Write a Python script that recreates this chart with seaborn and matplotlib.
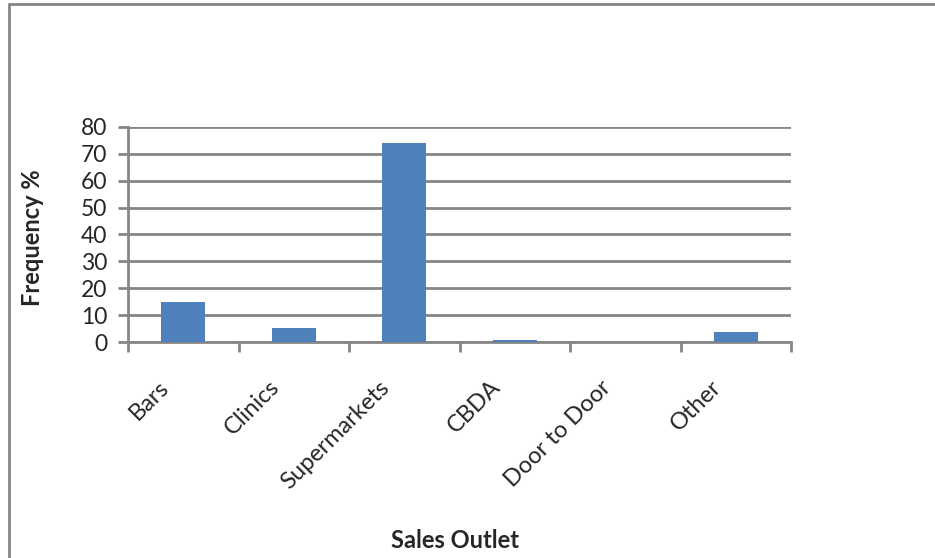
import matplotlib
matplotlib.use("Agg")
import matplotlib.pyplot as plt
import seaborn as sns
import pandas as pd
from matplotlib.lines import Line2D
from matplotlib.transforms import ScaledTranslation

categories = ["Bars", "Clinics", "Supermarkets", "CBDA", "Door to Door", "Other"]
values = [15.0, 5.3, 73.8, 0.8, 0.0, 3.9]
y_ticks = [0, 10, 20, 30, 40, 50, 60, 70, 80]

df = pd.DataFrame({"outlet": categories, "freq": values})

sns.set_theme(style="white")
plt.rcParams["font.family"] = ["Lato", "DejaVu Sans"]

W, H = 935, 558
fig = plt.figure(figsize=(W / 100, H / 100), dpi=100)
ax = fig.add_axes([128 / W, 1 - 342.3 / H, (791 - 128) / W, (342.3 - 126.7) / H])

grid_c = "#868686"
sns.barplot(data=df, x="outlet", y="freq", color="#4F81BD", width=0.4,
            saturation=1, linewidth=0, ax=ax, zorder=3)

ax.set_xlim(-0.5, len(categories) - 0.5)
ax.set_ylim(0, 80)
ax.set_yticks(y_ticks)
ax.set_yticklabels([str(t) for t in y_ticks], fontsize=16.5)
ax.yaxis.grid(True, color=grid_c, linewidth=2, zorder=0)
ax.set_axisbelow(True)

# x ticks at category boundaries
ax.set_xticks([i - 0.5 for i in range(len(categories) + 1)], minor=True)
ax.set_xticks(range(len(categories)))
ax.set_xticklabels(categories, rotation=45, ha="right", va="center",
                   rotation_mode="anchor", fontsize=17)
ax.tick_params(axis="x", which="major", length=0, pad=30)
ax.tick_params(axis="x", which="minor", length=7, width=2, color=grid_c, direction="out")
ax.tick_params(axis="y", which="major", length=7, width=2, color=grid_c, direction="out", pad=8)
ax.yaxis.set_ticks_position("left")
ax.xaxis.set_ticks_position("bottom")
shift = ScaledTranslation(-18 / 100, 0, fig.dpi_scale_trans)
for lab in ax.get_xticklabels():
    lab.set_transform(lab.get_transform() + shift)

for s in ["top", "right"]:
    ax.spines[s].set_visible(False)
for s in ["left", "bottom"]:
    ax.spines[s].set_color(grid_c)
    ax.spines[s].set_linewidth(2)

ax.set_xlabel("")
ax.set_ylabel("")
fig.text(33 / W, 1 - 238 / H, "Frequency %", fontsize=17, fontweight="bold",
         rotation=90, ha="center", va="center")
fig.text(455 / W, 1 - 541 / H, "Sales Outlet", fontsize=17, fontweight="bold",
         ha="center", va="center")

# outer chart border (top and left visible)
fig.add_artist(Line2D([8.5 / W, 1.0], [1 - 4 / H, 1 - 4 / H], color=grid_c, linewidth=2,
                      transform=fig.transFigure))
fig.add_artist(Line2D([8.5 / W, 8.5 / W], [0, 1 - 4 / H], color=grid_c, linewidth=2,
                      transform=fig.transFigure))

fig.savefig("out.png", dpi=100, facecolor="white")
